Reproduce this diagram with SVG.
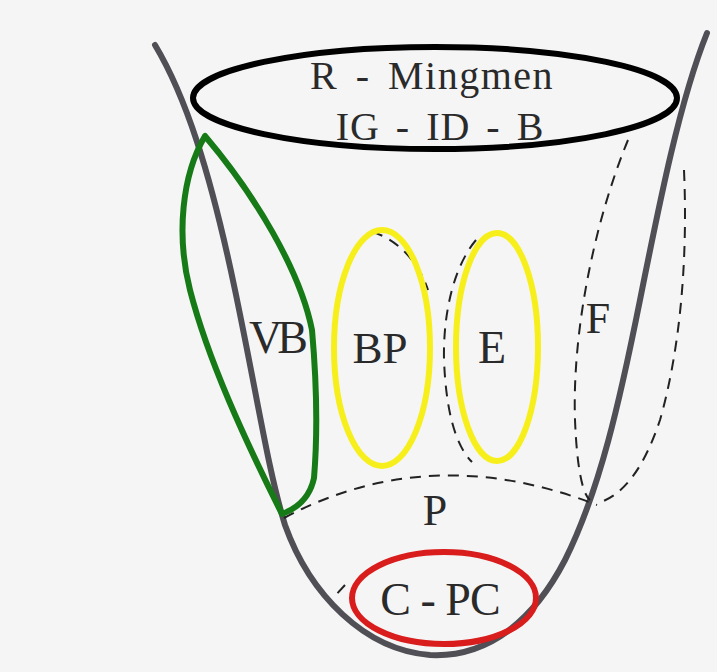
<svg xmlns="http://www.w3.org/2000/svg" width="717" height="672" viewBox="0 0 717 672">
<style>
.lbl{font-family:"Liberation Serif","Times New Roman",serif;fill:#2a2a2a;text-anchor:middle}
.dash{fill:none;stroke:#222;stroke-width:2;stroke-dasharray:11 8}
.yel{fill:none;stroke:#f7ef1c;stroke-width:6}
</style>
<rect width="717" height="672" fill="#f5f5f5"/>
<g id="cup">
<path d="M155 45 C185 95 210 170 235 290 C258 400 268 470 285 525 C310 595 365 650 430 655 C490 658 535 618 565 560 C600 490 620 400 640 300 C660 200 680 100 707 33" fill="none" stroke="#4f4f55" stroke-width="6" stroke-linecap="round"/>
</g>
<g id="connectors">
<path class="dash" d="M284 518 Q430 440 597 505"/>
<path class="dash" d="M628 140 C595 220 572 330 575 420 C577 470 583 495 590 500"/>
<path class="dash" d="M684 170 C688 260 680 350 660 420 C645 465 625 495 598 503"/>
<path class="dash" d="M372 232 C395 238 418 260 428 290"/>
<path class="dash" d="M476 240 C455 265 443 310 444 360 C446 410 455 445 472 462"/>
<path class="dash" d="M345 585 L333 598"/>
</g>
<g id="R">
<ellipse cx="435" cy="98" rx="242" ry="51" fill="none" stroke="#000" stroke-width="6"/>
<text class="lbl" x="432" y="89" font-size="40" letter-spacing="1.5" word-spacing="6">R - Mingmen</text>
<text class="lbl" x="440" y="140" font-size="40" letter-spacing="1" word-spacing="5">IG - ID - B</text>
</g>
<g id="VB">
<path d="M205 136 C182 175 176 235 190 290 C208 360 245 440 282 514 C298 508 310 497 314 478 C318 430 316 375 312 330 C300 270 255 195 205 136 Z" fill="none" stroke="#167a16" stroke-width="6" stroke-linejoin="round"/>
<text class="lbl" x="276" y="353" font-size="46" letter-spacing="-5">VB</text>
</g>
<g id="BP">
<ellipse class="yel" cx="382" cy="348" rx="48" ry="118"/>
<text class="lbl" x="380" y="363" font-size="45">BP</text>
</g>
<g id="E">
<ellipse class="yel" cx="497" cy="347" rx="41" ry="114"/>
<text class="lbl" x="492" y="363" font-size="46">E</text>
</g>
<g id="F">
<text class="lbl" x="598" y="333" font-size="44">F</text>
</g>
<g id="P">
<text class="lbl" x="435" y="525" font-size="44">P</text>
</g>
<g id="CPC">
<ellipse cx="444" cy="598" rx="92" ry="46" fill="none" stroke="#d91c1c" stroke-width="6"/>
<text class="lbl" x="440" y="615" font-size="46" letter-spacing="-1">C - PC</text>
</g>
</svg>
